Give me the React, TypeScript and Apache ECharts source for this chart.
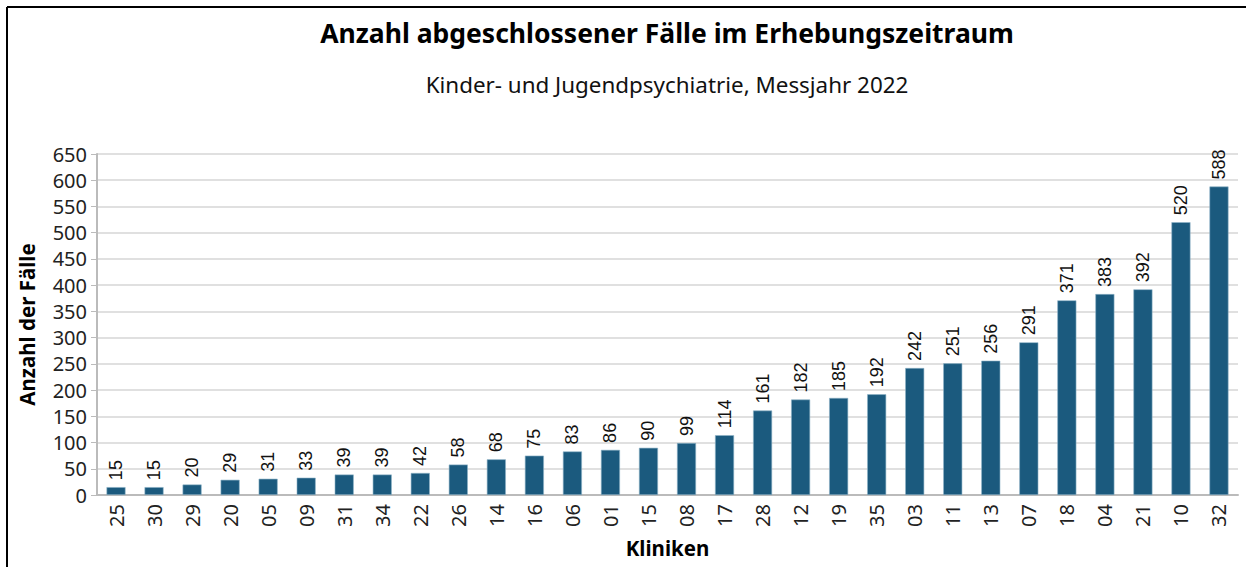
import React, { useEffect, useRef } from "react";
import * as echarts from "echarts";

const categories = ["25","30","29","20","05","09","31","34","22","26","14","16","06","01","15","08","17","28","12","19","35","03","11","13","07","18","04","21","10","32"];
const values = [15,15,20,29,31,33,39,39,42,58,68,75,83,86,90,99,114,161,182,185,192,242,251,256,291,371,383,392,520,588];
const yTicks = { min: 0, max: 650, interval: 50 };
const titleText = "Anzahl abgeschlossener Fälle im Erhebungszeitraum";
const subtitleText = "Kinder- und Jugendpsychiatrie, Messjahr 2022";
const xName = "Kliniken";
const yName = "Anzahl der Fälle";

const FONT = "'Noto Sans', 'Open Sans', sans-serif";

export default function App() {
  const ref = useRef<HTMLDivElement>(null);
  useEffect(() => {
    document.body.style.margin = "0";
    const chart = echarts.init(ref.current!, null, { renderer: "svg" });
    chart.setOption({
      animation: false,
      backgroundColor: "#fff",
      graphic: [
        { type: "line", shape: { x1: 7, y1: 7, x2: 1246, y2: 7 }, style: { stroke: "#000", lineWidth: 2 } },
        { type: "line", shape: { x1: 7, y1: 7, x2: 7, y2: 567 }, style: { stroke: "#000", lineWidth: 2 } },
        { type: "text", x: 667, y: 33, style: { text: titleText, fontFamily: FONT, fontWeight: "bold", fontSize: 26.5, fill: "#000", align: "center", verticalAlign: "middle" } },
        { type: "text", x: 667, y: 84, style: { text: subtitleText, fontFamily: FONT, fontSize: 22.4, fill: "#111", align: "center", verticalAlign: "middle" } },
      ],
      grid: { left: 97, right: 8, top: 154, bottom: 72, containLabel: false },
      xAxis: {
        type: "category",
        data: categories,
        name: xName,
        nameLocation: "middle",
        nameGap: 42,
        nameTextStyle: { fontFamily: FONT, fontWeight: "bold", fontSize: 20.5, color: "#000" },
        axisLine: { lineStyle: { color: "#bbb", width: 2 } },
        axisTick: { alignWithLabel: true, length: 6, lineStyle: { color: "#bbb", width: 1 } },
        axisLabel: { rotate: 90, fontFamily: FONT, fontSize: 20, color: "#222", margin: 9, interval: 0 },
      },
      yAxis: {
        type: "value",
        min: yTicks.min,
        max: yTicks.max,
        interval: yTicks.interval,
        name: yName,
        nameLocation: "middle",
        nameGap: 60,
        nameTextStyle: { fontFamily: FONT, fontWeight: "bold", fontSize: 20.5, color: "#000" },
        axisLine: { show: true, lineStyle: { color: "#bbb", width: 2 } },
        axisTick: { show: true, length: 6, lineStyle: { color: "#bbb", width: 1 } },
        axisLabel: { fontFamily: FONT, fontSize: 20, color: "#222", margin: 10 },
        splitLine: { lineStyle: { color: "#e0e0e0", width: 2 } },
      },
      series: [
        {
          type: "bar",
          data: values,
          barWidth: "50%",
          itemStyle: { color: "#1b5a7e", borderColor: "#8fb3c8", borderWidth: 0.6 },
          label: {
            show: true,
            position: "top",
            rotate: 90,
            align: "left",
            verticalAlign: "middle",
            distance: 7,
            fontFamily: "'Liberation Sans', Arial, sans-serif",
            fontSize: 18,
            color: "#111",
          },
        },
      ],
    });
    return () => chart.dispose();
  }, []);
  return <div ref={ref} style={{ width: 1246, height: 567 }} />;
}
